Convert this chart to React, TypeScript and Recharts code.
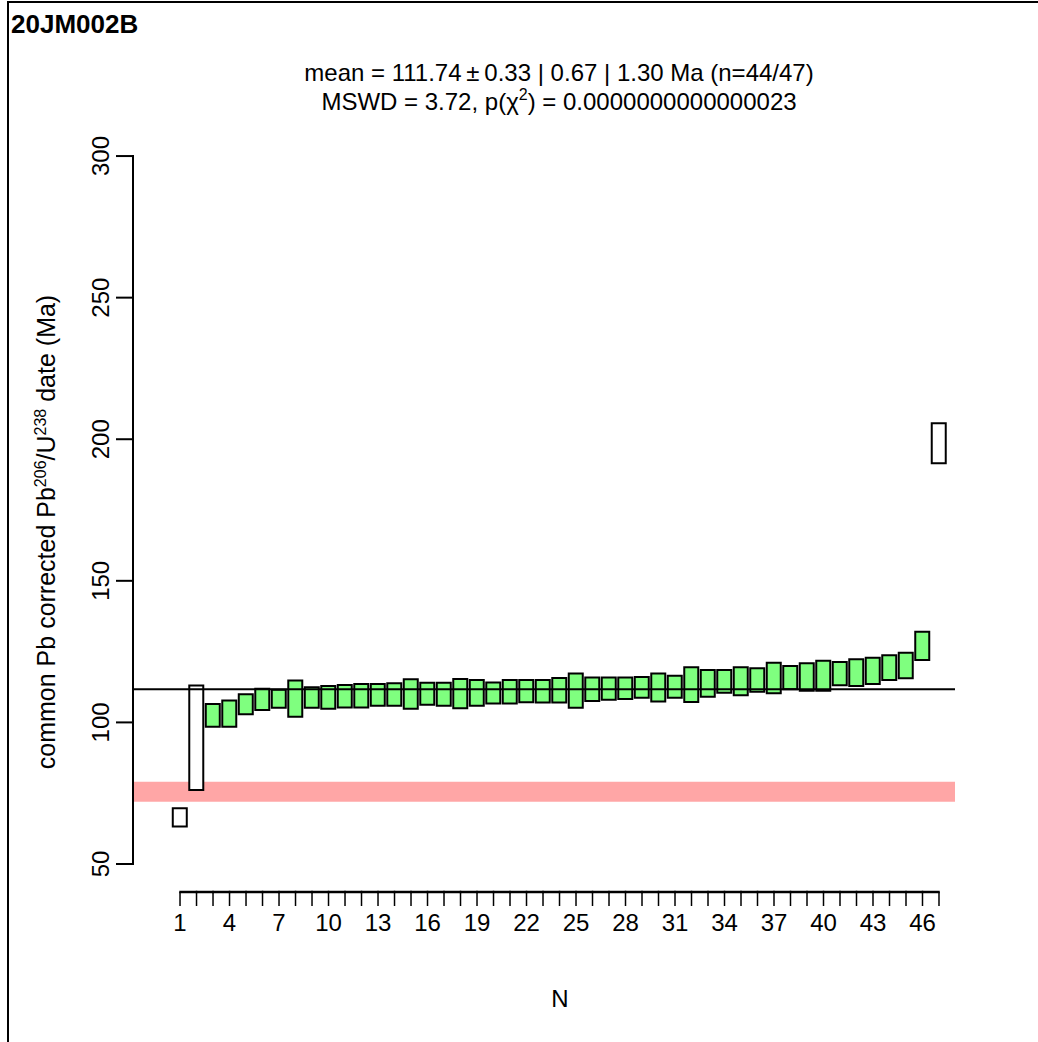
import {
  Bar,
  Cell,
  ComposedChart,
  ReferenceArea,
  ReferenceLine,
  XAxis,
  YAxis,
} from "recharts";

// spot number and 206Pb/238U date interval (Ma), lower and upper edge of each box
const sampleN = [
  1, 2, 3, 4, 5, 6, 7, 8, 9, 10, 11, 12, 13, 14, 15, 16, 17, 18, 19, 20, 21, 22, 23, 24,
  25, 26, 27, 28, 29, 30, 31, 32, 33, 34, 35, 36, 37, 38, 39, 40, 41, 42, 43, 44, 45, 46, 47,
];
const ageLow = [
  63.2, 76.1, 98.5, 98.5, 102.9, 104.4, 105.2, 102.0, 105.2, 104.8, 105.3, 105.3, 105.9,
  105.9, 104.8, 106.2, 105.9, 105.0, 105.9, 106.7, 106.7, 107.1, 107.0, 107.0, 105.2, 107.6,
  108.0, 108.3, 108.7, 107.4, 108.7, 107.2, 109.1, 110.5, 109.6, 110.8, 110.3, 111.7, 111.2,
  111.2, 113.1, 112.9, 113.6, 115.0, 115.6, 122.0, 191.5,
];
const ageHigh = [
  69.7, 113.0, 106.5, 107.7, 109.9, 111.9, 111.5, 114.8, 112.4, 112.9, 113.2, 113.6, 113.6,
  113.8, 115.2, 114.0, 114.0, 115.3, 115.0, 114.1, 115.0, 115.0, 115.0, 115.7, 117.3, 115.9,
  115.9, 115.9, 116.0, 117.3, 116.5, 119.5, 118.5, 118.5, 119.5, 119.1, 121.1, 119.9, 120.9,
  121.8, 121.3, 122.3, 122.8, 123.7, 124.6, 132.0, 205.6,
];
// spots left out of the weighted mean
const rejected = [1, 2, 47];

const meanAge = 111.74;
const bandLow = 72.0;
const bandHigh = 79.05;
const yTicks = [50, 100, 150, 200, 250, 300];

const W = 1038;
const H = 1042;
const PLOT = { left: 133, right: 955, top: 130, bottom: 892 };
const Y_AXIS_W = 40;
const X_AXIS_H = 40;
const xDomain: [number, number] = [-1.85, 47.97];
const yDomain: [number, number] = [40.11, 309.2];
const pxPerN = (PLOT.right - PLOT.left) / (xDomain[1] - xDomain[0]);
const pxPerMa = (PLOT.bottom - PLOT.top) / (yDomain[1] - yDomain[0]);

const FONT = "'Liberation Sans', Arial, Helvetica, sans-serif";

const rows = sampleN.map((n, i) => ({
  n,
  range: [ageLow[i], ageHigh[i]],
  used: !rejected.includes(n),
}));

// R-style axis: line only between first and last tick
function NTick({ x, y, payload }: any) {
  const v = payload.value as number;
  const last = v === sampleN[sampleN.length - 1];
  return (
    <g>
      <line x1={x} y1={y} x2={x} y2={y + 14} stroke="#000" strokeWidth={1.5} />
      {!last && (
        <line x1={x - 0.75} y1={y} x2={x + pxPerN + 0.75} y2={y} stroke="#000" strokeWidth={2.5} />
      )}
      {(v - 1) % 3 === 0 && (
        <text x={x} y={y + 39} textAnchor="middle" fontSize={24} fontFamily={FONT} fill="#000">
          {v}
        </text>
      )}
    </g>
  );
}

function AgeTick({ x, y, payload, index }: any) {
  const v = payload.value as number;
  const next = yTicks[index + 1];
  return (
    <g>
      <line x1={x} y1={y} x2={x - 17} y2={y} stroke="#000" strokeWidth={2} />
      {next !== undefined && (
        <line x1={x} y1={y + 1} x2={x} y2={y - (next - v) * pxPerMa - 1} stroke="#000" strokeWidth={2} />
      )}
      <text
        transform={`translate(${x - 24},${y}) rotate(-90)`}
        textAnchor="middle"
        fontSize={24}
        fontFamily={FONT}
        fill="#000"
      >
        {v}
      </text>
    </g>
  );
}

export default function App() {
  return (
    <div style={{ position: "absolute", left: 0, top: 0, width: W, height: H, background: "#fff" }}>
      <div
        style={{
          position: "absolute",
          left: 7,
          top: 1,
          right: 0,
          bottom: 0,
          borderLeft: "2px solid #000",
          borderTop: "2px solid #000",
        }}
      />
      <ComposedChart
        width={W}
        height={H}
        data={rows}
        margin={{
          top: PLOT.top,
          right: W - PLOT.right,
          bottom: H - PLOT.bottom - X_AXIS_H,
          left: PLOT.left - Y_AXIS_W,
        }}
        style={{ position: "absolute", left: 0, top: 0 }}
      >
        <XAxis
          type="number"
          dataKey="n"
          domain={xDomain}
          allowDataOverflow
          ticks={sampleN}
          interval={0}
          height={X_AXIS_H}
          axisLine={false}
          tickLine={false}
          tickSize={0}
          tickMargin={0}
          tick={<NTick />}
        />
        <YAxis
          type="number"
          domain={yDomain}
          allowDataOverflow
          ticks={yTicks}
          interval={0}
          width={Y_AXIS_W}
          axisLine={false}
          tickLine={false}
          tickSize={0}
          tickMargin={0}
          tick={<AgeTick />}
        />
        <ReferenceLine y={meanAge} stroke="#000" strokeWidth={2} />
        <Bar dataKey="range" barSize={14} stroke="#000" strokeWidth={2} isAnimationActive={false}>
          {rows.map((r) => (
            <Cell key={r.n} fill={r.used ? "rgba(0,255,0,0.5)" : "#fff"} />
          ))}
        </Bar>
        <ReferenceArea y1={bandLow} y2={bandHigh} fill="#ff0000" fillOpacity={0.35} stroke="none" />
      </ComposedChart>
      <svg
        width={W}
        height={H}
        style={{ position: "absolute", left: 0, top: 0, pointerEvents: "none" }}
        fontFamily={FONT}
      >
        <text x={11} y={33} fontSize={26} fontWeight="bold" fill="#000">
          20JM002B
        </text>
        <text x={559} y={81} fontSize={24} textAnchor="middle" fill="#000">
          mean = 111.74{"\u2009"}±{"\u2009"}0.33 | 0.67 | 1.30 Ma (n=44/47)
        </text>
        <text x={559} y={110} fontSize={24} textAnchor="middle" fill="#000">
          MSWD = 3.72, p(χ<tspan dy={-10} fontSize={16}>2</tspan>
          <tspan dy={10}>) = 0.0000000000000023</tspan>
        </text>
        <text
          transform="translate(55,532) rotate(-90)"
          textAnchor="middle"
          fontSize={25}
          fill="#000"
        >
          common Pb corrected Pb<tspan dy={-9} fontSize={16}>206</tspan>
          <tspan dy={9}>/U</tspan>
          <tspan dy={-9} fontSize={16}>238</tspan>
          <tspan dy={9}> date (Ma)</tspan>
        </text>
        <text x={560} y={1007} fontSize={24} textAnchor="middle" fill="#000">
          N
        </text>
      </svg>
    </div>
  );
}
